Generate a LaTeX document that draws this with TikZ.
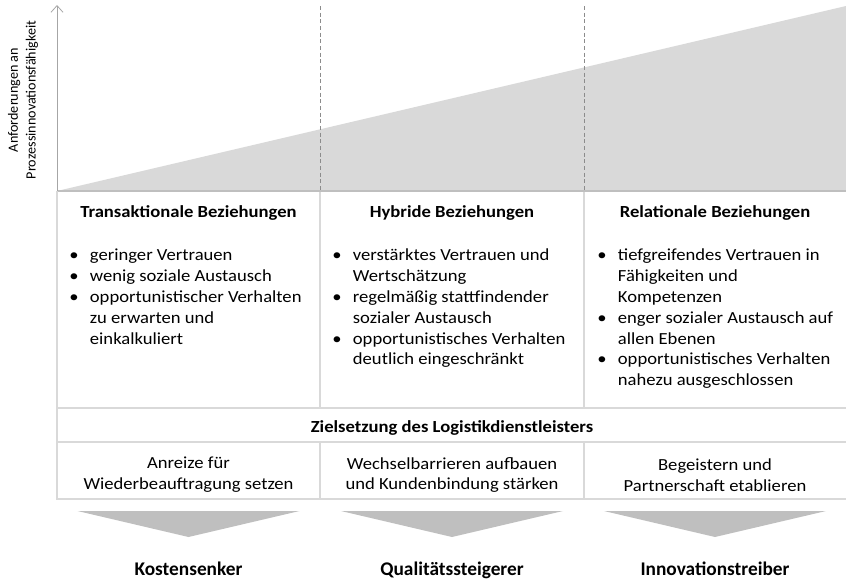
\documentclass[tikz,border=0pt]{standalone}
\usepackage{fontspec}
\setmainfont{Carlito}[FakeStretch=1.1]
\newfontfamily\axisfont{Carlito}
\usetikzlibrary{arrows.meta}

\definecolor{gridgray}{HTML}{D9D9D9}
\definecolor{areagray}{HTML}{D9D9D9}
\definecolor{basegray}{HTML}{BFBFBF}
\definecolor{axisgray}{HTML}{A6A6A6}
\definecolor{dashgray}{HTML}{8C8C8C}
\definecolor{arrowgray}{HTML}{BFBFBF}

\newcommand\bodyfont{\fontsize{12.7}{15.6}\selectfont}
\newcommand\blist[1]{\begin{tabular}{@{}p{15.5pt}@{}l@{}}#1\end{tabular}}
\newcommand\bi{\textbullet}

\tikzset{
  head/.style={font=\bodyfont\bfseries, inner sep=0pt, anchor=base},
  bullets/.style={font=\bodyfont, inner sep=0pt, anchor=north west},
  goal/.style={font=\bodyfont, align=center, inner sep=0pt},
  result/.style={font=\axisfont\fontsize{14.5}{17}\selectfont\bfseries, inner sep=0pt, anchor=base},
  gridline/.style={draw=gridgray, line width=1.1pt},
  sepline/.style={draw=dashgray, dashed, line width=0.6pt, dash pattern=on 3pt off 2pt},
}

\begin{document}
\begin{tikzpicture}[x=0.75pt, y=-0.75pt]
  \useasboundingbox (0,0) rectangle (846,586);

  % growing requirement
  \fill[areagray] (57,191) -- (846,6) -- (846,191) -- cycle;
  \foreach \x in {320,584}
    \draw[sepline] (\x,6) -- (\x,191);
  \draw[basegray, line width=1.5pt] (57,191) -- (846,191);
  \draw[axisgray, line width=0.6pt, -{Straight Barb[length=5pt,width=9pt]}] (57,191) -- (57,5);
  \node[font=\axisfont\fontsize{10.6}{13.3}\selectfont, align=center, rotate=90, inner sep=0pt]
    (ylab) at (23,100) {Anforderungen an\\Prozessinnovationsfähigkeit};

  % table
  \draw[gridline] (57,191) -- (57,499) -- (846,499);
  \draw[gridline] (57,408) -- (846,408);
  \draw[gridline] (57,442) -- (846,442);
  \foreach \x in {320,584} {
    \draw[gridline] (\x,192) -- (\x,408);
    \draw[gridline] (\x,442) -- (\x,499);
  }

  % relationship types
  \node[head] (transakt) at (188.5,217) {Transaktionale Beziehungen};
  \node[head] (hybrid) at (452,217) {Hybride Beziehungen};
  \node[head] (relation) at (715,217) {Relationale Beziehungen};

  \node[bullets] (listA) at (69,246) {\blist{
    \bi & geringer Vertrauen\\
    \bi & wenig soziale Austausch\\
    \bi & opportunistischer Verhalten\\
        & zu erwarten und\\
        & einkalkuliert}};
  \node[bullets] (listB) at (332,246) {\blist{
    \bi & verstärktes Vertrauen und\\
        & Wertschätzung\\
    \bi & regelmäßig stattfindender\\
        & sozialer Austausch\\
    \bi & opportunistisches Verhalten\\
        & deutlich eingeschränkt}};
  \node[bullets] (listC) at (597,246) {\blist{
    \bi & tiefgreifendes Vertrauen in\\
        & Fähigkeiten und\\
        & Kompetenzen\\
    \bi & enger sozialer Austausch auf\\
        & allen Ebenen\\
    \bi & opportunistisches Verhalten\\
        & nahezu ausgeschlossen}};

  % objectives
  \node[head] (ziel) at (452,432) {Zielsetzung des Logistikdienstleisters};
  \node[goal] (goalA) at (188.5,475) {Anreize für\\Wiederbeauftragung setzen};
  \node[goal] (goalB) at (452,475) {Wechselbarrieren aufbauen\\und Kundenbindung stärken};
  \node[goal] (goalC) at (715,475) {Begeistern und\\Partnerschaft etablieren};

  % outcome
  \foreach \c in {188.5,452,715}
    \fill[arrowgray] ({\c-111},511) -- ({\c+111},511) -- (\c,537) -- cycle;
  \node[result] (kosten) at (188.5,575) {Kostensenker};
  \node[result] (quali) at (452,575) {Qualitätssteigerer};
  \node[result] (innov) at (715,575) {Innovationstreiber};
\end{tikzpicture}
\end{document}
